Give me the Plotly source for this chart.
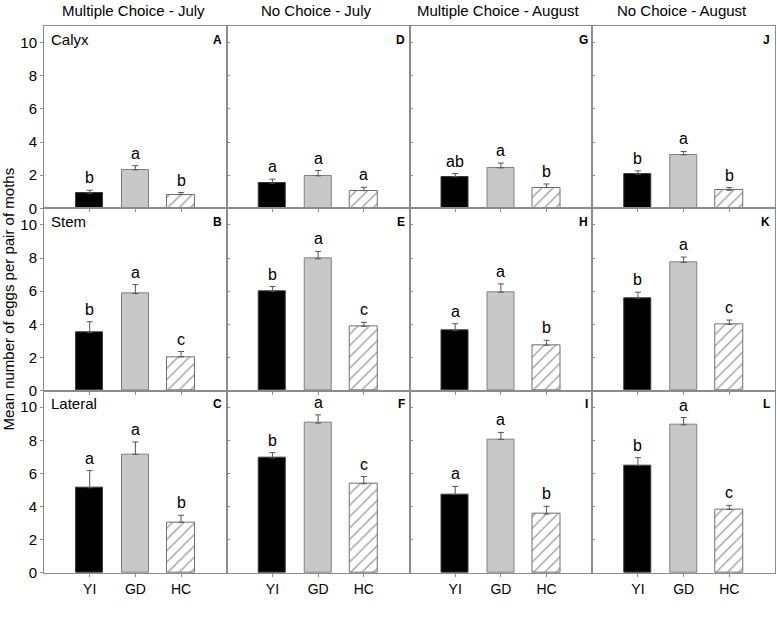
import plotly.graph_objects as go
from plotly.subplots import make_subplots

categories = ["YI", "GD", "HC"]
column_titles = ["Multiple Choice - July", "No Choice - July",
                 "Multiple Choice - August", "No Choice - August"]
row_labels = ["Calyx", "Stem", "Lateral"]
panel_letters = [["A", "D", "G", "J"], ["B", "E", "H", "K"], ["C", "F", "I", "L"]]
y_ticks = [0, 2, 4, 6, 8, 10]

# means per column, order YI, GD, HC
calyx_means = [[0.91, 2.32, 0.83], [1.52, 1.96, 1.07], [1.90, 2.44, 1.25], [2.06, 3.23, 1.09]]
calyx_se = [[0.18, 0.25, 0.12], [0.24, 0.32, 0.20], [0.20, 0.29, 0.22], [0.20, 0.20, 0.16]]
calyx_letters = [["b", "a", "b"], ["a", "a", "a"], ["ab", "a", "b"], ["b", "a", "b"]]

stem_means = [[3.52, 5.86, 2.04], [6.00, 7.96, 3.88], [3.64, 5.94, 2.74], [5.58, 7.74, 4.00]]
stem_se = [[0.64, 0.54, 0.32], [0.28, 0.44, 0.24], [0.40, 0.50, 0.30], [0.36, 0.32, 0.26]]
stem_letters = [["b", "a", "c"], ["b", "a", "c"], ["a", "a", "b"], ["b", "a", "c"]]

lateral_means = [[5.14, 7.16, 3.06], [6.94, 9.04, 5.38], [4.74, 8.06, 3.56], [6.48, 8.94, 3.84]]
lateral_se = [[1.04, 0.74, 0.42], [0.32, 0.50, 0.44], [0.48, 0.42, 0.46], [0.48, 0.44, 0.24]]
lateral_letters = [["a", "a", "b"], ["b", "a", "c"], ["a", "a", "b"], ["b", "a", "c"]]

all_means = [calyx_means, stem_means, lateral_means]
all_se = [calyx_se, stem_se, lateral_se]
all_letters = [calyx_letters, stem_letters, lateral_letters]

FONT = "Arial, Liberation Sans, sans-serif"
AXIS_COLOR = "#8c8c8c"

fig = make_subplots(rows=3, cols=4, horizontal_spacing=0, vertical_spacing=0)

for r in range(3):
    for c in range(4):
        m = all_means[r][c]
        se = all_se[r][c]
        fig.add_trace(go.Bar(
            x=[1, 2, 3], y=m, width=0.6,
            marker=dict(color=["black", "#c8c8c8", "white"],
                        line=dict(color=["#3a3a3a", "#808080", "#707070"], width=1),
                        pattern=dict(shape=["", "", "/"], fgcolor="#303030",
                                     fillmode="overlay", size=8, solidity=0.18)),
            error_y=dict(type="data", symmetric=False, array=se,
                         arrayminus=[0, 0, 0], color="#555555", thickness=1, width=3),
            showlegend=False, hoverinfo="skip"),
            row=r + 1, col=c + 1)
        idx = r * 4 + c + 1
        xr = "x" if idx == 1 else f"x{idx}"
        yr = "y" if idx == 1 else f"y{idx}"
        for k in range(3):
            fig.add_annotation(x=k + 1, y=m[k] + se[k], xref=xr, yref=yr,
                               text=all_letters[r][c][k], showarrow=False,
                               yanchor="bottom", yshift=2,
                               font=dict(family=FONT, size=16, color="black"))
        fig.add_annotation(x=0.985, y=0.975, xref=f"{xr} domain", yref=f"{yr} domain",
                           text=f"<b>{panel_letters[r][c]}</b>", showarrow=False,
                           xanchor="right", yanchor="top",
                           font=dict(family=FONT, size=12, color="black"))
        if c == 0:
            fig.add_annotation(x=0.025, y=0.985, xref=f"{xr} domain", yref=f"{yr} domain",
                               text=row_labels[r], showarrow=False,
                               xanchor="left", yanchor="top",
                               font=dict(family=FONT, size=15, color="black"))
        fig.update_xaxes(range=[0, 4], tickvals=[1, 2, 3],
                         ticktext=categories if r == 2 else ["", "", ""],
                         showticklabels=(r == 2),
                         ticks="outside", ticklen=3, tickcolor=AXIS_COLOR,
                         showline=True, mirror=True, linecolor=AXIS_COLOR, linewidth=1,
                         showgrid=False, zeroline=False,
                         tickfont=dict(family=FONT, size=14, color="black"),
                         row=r + 1, col=c + 1)
        fig.update_yaxes(range=[0, 11], tickvals=y_ticks,
                         showticklabels=(c == 0),
                         ticks="outside" if c == 0 else "inside", ticklen=3,
                         tickcolor=AXIS_COLOR,
                         showline=True, mirror=True, linecolor=AXIS_COLOR, linewidth=1,
                         showgrid=False, zeroline=False,
                         tickfont=dict(family=FONT, size=15, color="black"),
                         row=r + 1, col=c + 1)

for c in range(4):
    xr = "x" if c == 0 else f"x{c + 1}"
    fig.add_annotation(x=0.5, y=1.0, xref=f"{xr} domain", yref="paper",
                       text=column_titles[c], showarrow=False,
                       yanchor="bottom", yshift=5, xshift=-2,
                       font=dict(family=FONT, size=15, color="black"))

fig.add_annotation(x=0, y=0.5, xref="paper", yref="paper", xshift=-36,
                   text="Mean number of eggs per pair of moths", textangle=-90,
                   showarrow=False, xanchor="center", yanchor="middle",
                   font=dict(family=FONT, size=15, color="black"))

fig.update_layout(width=777, height=638,
                  margin=dict(l=44, r=2, t=26, b=65, autoexpand=False),
                  plot_bgcolor="white", paper_bgcolor="white",
                  bargap=0, font=dict(family=FONT))

fig.write_html("out.html", config={"displayModeBar": False},
               post_script="document.body.style.margin='0px';")
